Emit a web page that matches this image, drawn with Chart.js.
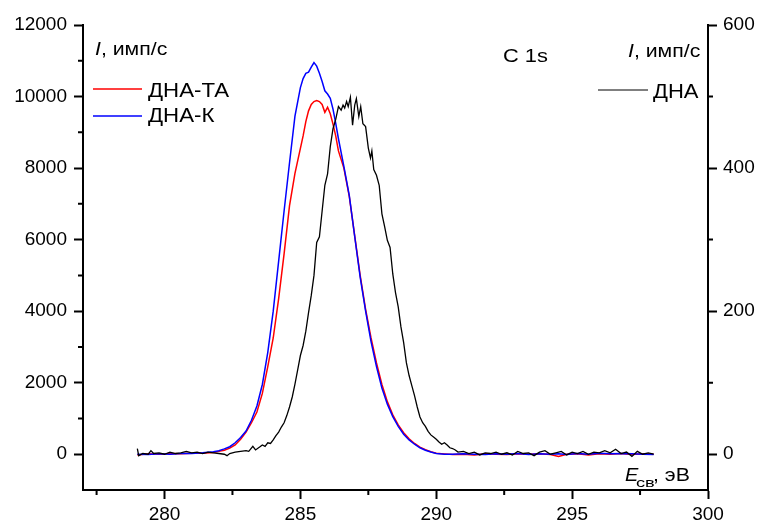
<!DOCTYPE html>
<html lang="ru">
<head>
  <meta charset="UTF-8" />
  <title>C 1s</title>
  <style>
    body { margin: 0; background: #fff; }
    #wrap { width: 761px; height: 528px; }
  </style>
  <script src="https://cdn.jsdelivr.net/npm/chart.js@4.4.1/dist/chart.umd.min.js"></script>
</head>
<body>
  <div id="wrap"><canvas id="xps" width="761" height="528"></canvas></div>

  <script>
    // ДНА-ТА и ДНА-К (левая ось), одна сетка по энергии
    const energyTA = [
      279.0, 279.4, 279.8, 280.2, 280.6, 281.0, 281.4, 281.8, 282.0, 282.2,
      282.4, 282.6, 282.8, 283.0, 283.2, 283.4, 283.6, 283.8, 284.0, 284.2,
      284.4, 284.6, 284.8, 285.0, 285.1, 285.2, 285.3, 285.4, 285.5, 285.6,
      285.7, 285.8, 285.9, 286.0, 286.1, 286.2, 286.3, 286.4, 286.6, 286.8,
      287.0, 287.2, 287.4, 287.6, 287.8, 288.0, 288.2, 288.4, 288.6, 288.8,
      289.0, 289.2, 289.4, 289.6, 289.8, 290.0, 290.3, 290.6, 291.0, 291.4,
      291.8, 292.2, 292.6, 293.0, 293.4, 293.8, 294.2, 294.5, 294.8, 295.2,
      295.6, 296.0, 296.4, 296.8, 297.2, 297.6, 298.0
    ];
    const intensityTA = [
      -20, 10, 0, 20, 10, 30, 30, 50, 80, 110,
      170, 260, 420, 620, 880, 1180, 1700, 2450, 3250, 4350,
      5600, 6950, 7850, 8550, 8900, 9300, 9600, 9780, 9860, 9890,
      9860, 9780, 9560, 9700, 9520, 9230, 8900, 8480, 8000, 7200,
      6100, 5000, 4050, 3250, 2550, 1950, 1470, 1100, 820, 600,
      430, 300, 200, 130, 70, 30, 10, -10, 0, -20,
      10, 0, -10, 10, 0, 10, -10, -60, 0, 10,
      -20, 10, 0, 20, -10, 10, 0
    ];
    const intensityK = [
      0, -10, 10, 0, 20, 20, 40, 70, 100, 150,
      210, 320, 470, 650, 950, 1350, 1950, 2850, 4000, 5400,
      6800, 8150, 9450, 10250, 10500, 10650, 10680, 10820, 10950, 10850,
      10650, 10420, 10160, 10070, 9950, 9650, 9250, 8820, 8050, 7230,
      6080, 4950, 4000, 3150, 2450, 1850, 1400, 1050, 780, 560,
      400, 280, 180, 110, 60, 20, 0, 0, 10, 0,
      -10, 10, 0, 20, -10, 10, 0, 10, -10, 20,
      0, 30, 10, 20, 10, 0, -10
    ];

    // ДНА (правая ось)
    const energyDNA = [
      279.0, 279.05, 279.2, 279.4, 279.5, 279.6, 279.8, 280.0, 280.2, 280.4,
      280.6, 280.8, 281.0, 281.2, 281.4, 281.6, 281.8, 282.0, 282.2, 282.3,
      282.4, 282.6, 282.8, 283.0, 283.1, 283.25, 283.35, 283.5, 283.6, 283.7,
      283.8, 283.9, 284.0, 284.1, 284.2, 284.3, 284.4, 284.5, 284.6, 284.7,
      284.8, 284.9, 285.0, 285.1, 285.2, 285.3, 285.4, 285.5, 285.6, 285.7,
      285.8, 285.9, 286.0, 286.1, 286.2, 286.3, 286.4, 286.5, 286.57, 286.63,
      286.7, 286.76, 286.84, 286.92, 287.0, 287.06, 287.15, 287.22, 287.3, 287.4,
      287.5, 287.58, 287.63, 287.7, 287.8, 287.9, 288.0, 288.1, 288.2, 288.3,
      288.4, 288.5, 288.6, 288.7, 288.8, 288.9, 289.0, 289.1, 289.2, 289.3,
      289.4, 289.5, 289.6, 289.7, 289.8, 289.9, 290.0, 290.1, 290.2, 290.3,
      290.4, 290.5, 290.6, 290.7, 290.8, 291.0, 291.2, 291.4, 291.6, 291.8,
      292.0, 292.2, 292.4, 292.6, 292.8, 293.0, 293.2, 293.4, 293.6, 293.8,
      294.0, 294.2, 294.4, 294.6, 294.8, 295.0, 295.2, 295.4, 295.6, 295.8,
      296.0, 296.2, 296.4, 296.6, 296.8, 297.0, 297.2, 297.4, 297.6, 297.8,
      298.0
    ];
    const intensityDNA = [
      8, -2, 1, 0, 5, 1, 2, 0, 3, 1,
      2, 4, 2, 3, 1, 3, 2, 1, 0, -2,
      1, 3, 4, 5, 4, 11, 6, 10, 13, 11,
      16, 15, 20, 26, 31, 38, 44, 54, 66, 80,
      98, 118, 138, 152, 172, 198, 222, 250, 296, 304,
      340, 376, 392, 430, 455, 468, 486, 481, 488, 484,
      493, 486, 499, 460, 488, 497, 472, 486, 462, 458,
      428, 414, 424, 398, 390, 376, 336, 318, 299, 289,
      252, 226, 206, 178, 156, 128, 110, 96, 82, 66,
      52, 44, 39, 32, 27, 24, 21, 17, 14, 16,
      13, 9, 8, 6, 3, 4, 1, 3, -1, 2,
      1, 3, 0, 2, -1, 4, 1, 2, -2, 3,
      5, 0, 2, 4, -1, 3, 1, 4, 0, 3,
      2, 5, 2, 7, 1, 3, -3, 4, 0, 2,
      0
    ];

    const xTicks = [280, 285, 290, 295, 300];
    const xMinor = [277.5, 282.5, 287.5, 292.5, 297.5];
    const leftTicks = [0, 2000, 4000, 6000, 8000, 10000, 12000];
    const leftMinor = [1000, 3000, 5000, 7000, 9000, 11000];
    const rightTicks = [0, 200, 400, 600];
    const rightMinor = [100, 300, 500];

    const FONT = 'Arial, "Liberation Sans", sans-serif';
    const W = 761, H = 528;
    const AREA = { left: 83, right: 708, top: 25, bottom: 490 };

    function pts(xs, ys) {
      return xs.map((x, i) => ({ x, y: ys[i] }));
    }

    // короткие промежуточные риски
    const minorTicks = {
      id: 'minorTicks',
      afterDraw(chart) {
        const { ctx, chartArea: a, scales } = chart;
        ctx.save();
        ctx.strokeStyle = '#000';
        ctx.lineWidth = 2;
        ctx.beginPath();
        xMinor.forEach(v => {
          const px = scales.x.getPixelForValue(v);
          ctx.moveTo(px, a.bottom);
          ctx.lineTo(px, a.bottom + 5);
        });
        leftMinor.forEach(v => {
          const py = scales.y.getPixelForValue(v);
          ctx.moveTo(a.left, py);
          ctx.lineTo(a.left - 5, py);
        });
        rightMinor.forEach(v => {
          const py = scales.y2.getPixelForValue(v);
          ctx.moveTo(a.right, py);
          ctx.lineTo(a.right + 5, py);
        });
        ctx.stroke();
        ctx.restore();
      }
    };

    // текст, слегка растянутый по горизонтали, как в исходном рисунке
    function text(ctx, s, x, y, size, sx, italic) {
      ctx.save();
      ctx.font = (italic ? 'italic ' : '') + size + 'px ' + FONT;
      ctx.translate(x, y);
      ctx.scale(sx, 1);
      ctx.fillText(s, 0, 0);
      const w = ctx.measureText(s).width * sx;
      ctx.restore();
      return w;
    }

    // подписи внутри поля графика и легенда
    const annotations = {
      id: 'annotations',
      afterDraw(chart) {
        const ctx = chart.ctx;
        const ds = chart.data.datasets;
        ctx.save();
        ctx.fillStyle = '#000';
        ctx.textBaseline = 'alphabetic';

        const axisLabel = (x, y) => {
          const w = text(ctx, 'I', x, y, 19, 1.12, true);
          text(ctx, ', имп/с', x + w, y, 19, 1.12, false);
        };
        axisLabel(95, 55);
        axisLabel(628, 57);

        text(ctx, 'C 1s', 503, 62, 19, 1.15, false);

        const legendLine = (x1, x2, y, color, width) => {
          ctx.strokeStyle = color;
          ctx.lineWidth = width;
          ctx.beginPath();
          ctx.moveTo(x1, y);
          ctx.lineTo(x2, y);
          ctx.stroke();
        };
        legendLine(93, 142, 89, ds[2].borderColor, 1.5);
        text(ctx, ds[2].label, 148, 97, 21, 1.06, false);
        legendLine(93, 142, 116, ds[1].borderColor, 1.5);
        text(ctx, ds[1].label, 148, 122, 21, 1.06, false);
        legendLine(598, 648, 90, ds[0].borderColor, 1);
        text(ctx, ds[0].label, 653, 98, 21, 1.05, false);

        // E_св, эВ
        text(ctx, 'E', 625, 481, 19, 1.05, true);
        text(ctx, 'св', 636, 487, 13, 1.4, false);
        text(ctx, ', эВ', 653, 481, 19, 1.12, false);
        ctx.restore();
      }
    };

    const tickFont = { family: FONT, size: 19 };

    new Chart(document.getElementById('xps'), {
      type: 'line',
      data: {
        datasets: [
          {
            label: 'ДНА',
            data: pts(energyDNA, intensityDNA),
            yAxisID: 'y2',
            borderColor: '#000000',
            borderWidth: 1.3,
            order: 0
          },
          {
            label: 'ДНА-К',
            data: pts(energyTA, intensityK),
            yAxisID: 'y',
            borderColor: '#0000ff',
            borderWidth: 1.5,
            order: 1
          },
          {
            label: 'ДНА-ТА',
            data: pts(energyTA, intensityTA),
            yAxisID: 'y',
            borderColor: '#ff0000',
            borderWidth: 1.5,
            order: 2
          }
        ]
      },
      options: {
        responsive: false,
        animation: false,
        devicePixelRatio: 1,
        layout: { padding: { top: AREA.top, left: 0, right: 0, bottom: 0 } },
        elements: { point: { radius: 0 }, line: { tension: 0 } },
        plugins: { legend: { display: false }, tooltip: { enabled: false } },
        scales: {
          x: {
            type: 'linear',
            min: 277,
            max: 300,
            afterBuildTicks: s => { s.ticks = xTicks.map(v => ({ value: v })); },
            afterFit: s => { s.height = H - AREA.bottom; },
            ticks: { font: tickFont, color: '#000', padding: 4, maxRotation: 0, callback: v => String(v) },
            grid: { drawOnChartArea: false, drawTicks: true, tickLength: 9, tickColor: '#000', tickWidth: 2 },
            border: { display: true, color: '#000', width: 2 }
          },
          y: {
            position: 'left',
            min: -1000,
            max: 12000,
            afterBuildTicks: s => { s.ticks = leftTicks.map(v => ({ value: v })); },
            afterFit: s => { s.width = AREA.left; },
            ticks: { font: tickFont, color: '#000', padding: 7, callback: v => String(v) },
            grid: { drawOnChartArea: false, drawTicks: true, tickLength: 9, tickColor: '#000', tickWidth: 2 },
            border: { display: true, color: '#000', width: 2 }
          },
          y2: {
            position: 'right',
            min: -50,
            max: 600,
            afterBuildTicks: s => { s.ticks = rightTicks.map(v => ({ value: v })); },
            afterFit: s => { s.width = W - AREA.right; },
            ticks: { font: tickFont, color: '#000', padding: 6, callback: v => String(v) },
            grid: { drawOnChartArea: false, drawTicks: true, tickLength: 9, tickColor: '#000', tickWidth: 2 },
            border: { display: true, color: '#000', width: 2 }
          }
        }
      },
      plugins: [minorTicks, annotations]
    });
  </script>
</body>
</html>
